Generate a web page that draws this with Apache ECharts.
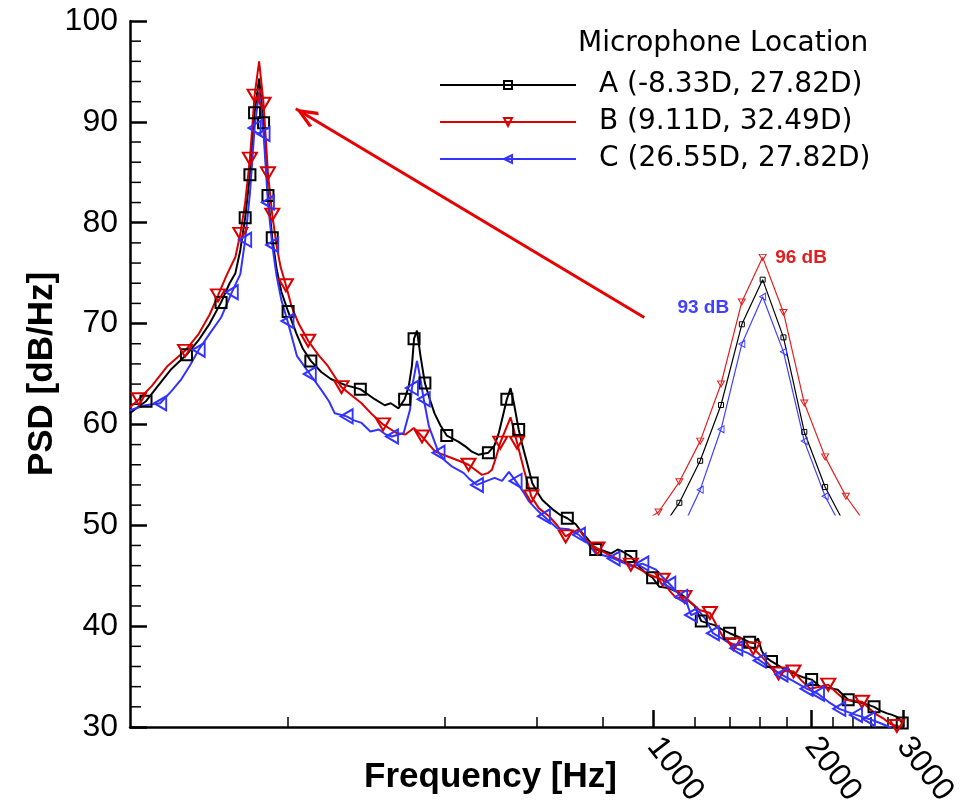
<!DOCTYPE html>
<html>
<head>
<meta charset="UTF-8">
<script src="https://cdn.jsdelivr.net/npm/echarts@6/dist/echarts.min.js"></script>
<style>
  html, body { margin: 0; padding: 0; background: #fff; }
  #main { width: 971px; height: 807px; }
</style>
</head>
<body>
<div id="main"></div>
<script>
// points: [frequency Hz, PSD dB/Hz, marker shown (1) or not (0)]
var micA = [
  [100, 61.1, 0], [104, 61.8, 0], [107.3, 62.3, 1], [113, 63.8, 0], [120, 65.5, 0],
  [128.2, 66.9, 1], [135, 68.3, 0], [142, 70.0, 0], [149.3, 72.1, 1], [155, 74.0, 0],
  [159, 75.0, 0], [162.5, 77.3, 0], [166, 80.5, 1], [169.5, 84.75, 1], [173, 90.9, 1],
  [176.5, 94.3, 0], [180, 89.9, 1], [183.5, 82.7, 1], [187, 78.5, 1], [190.5, 75.5, 0],
  [194.5, 73.2, 0], [200.5, 71.2, 1], [208, 69.0, 0], [214, 67.5, 0], [221.6, 66.3, 1],
  [232, 65.2, 0], [242, 64.5, 0], [258, 63.9, 0], [275.5, 63.5, 1], [293.5, 62.5, 0],
  [306.7, 61.9, 0], [315, 62.1, 0], [325.9, 61.6, 0], [334.8, 62.5, 1], [341, 63.8, 0],
  [345.7, 65.8, 0], [349, 68.5, 1], [353.5, 69.3, 0], [359, 66.8, 0], [366, 64.1, 1],
  [374, 62.5, 0], [381.9, 61.1, 0], [392, 59.9, 0], [403, 58.9, 1], [424, 58.3, 0],
  [438, 57.8, 0], [450, 57.3, 0], [463, 57.0, 0], [484, 57.2, 1], [497, 57.9, 0],
  [507, 59.2, 0], [525, 62.5, 1], [533.6, 63.6, 0], [542, 62.0, 0], [553, 59.5, 1],
  [563, 57.8, 0], [573.8, 56.2, 0], [587, 54.2, 1], [600, 53.3, 0], [613.8, 52.5, 0],
  [622.6, 52.2, 0], [645, 51.5, 0], [665, 51.0, 0], [685, 50.7, 1], [711, 50.1, 0],
  [730, 49.3, 0], [748, 48.7, 0], [776, 47.6, 1], [800, 47.5, 0], [830, 47.2, 0],
  [855, 47.6, 0], [873, 47.4, 0], [906, 46.9, 1], [940, 45.9, 0], [970, 45.2, 0],
  [997, 44.8, 1], [1027, 43.9, 0], [1060, 43.8, 0], [1089, 43.6, 0], [1120, 43.3, 0],
  [1147, 42.9, 0], [1199, 42.0, 0], [1235, 40.5, 1], [1270, 40.3, 0], [1309, 40.1, 0],
  [1350, 39.7, 0], [1399, 39.3, 1], [1460, 38.9, 0], [1528, 38.4, 1], [1560, 38.3, 0],
  [1585, 38.8, 0], [1610, 37.6, 0], [1633, 37.0, 0], [1682, 36.5, 1], [1720, 36.2, 0],
  [1771, 35.8, 0], [1820, 35.5, 0], [1878, 35.2, 0], [1940, 34.9, 0], [2007, 34.7, 1],
  [2085, 34.0, 0], [2160, 33.9, 0], [2251, 33.7, 0], [2357, 32.7, 1], [2430, 32.5, 0],
  [2505, 32.35, 0], [2570, 32.2, 0], [2641, 32.0, 1], [2720, 31.6, 0], [2797, 31.35, 0],
  [2860, 31.2, 0], [2923, 31.0, 0], [2990, 30.4, 1]
];
var micB = [
  [100, 61.7, 0], [104, 62.5, 1], [110, 63.8, 0], [118, 65.8, 0], [127.4, 67.3, 1],
  [135, 68.9, 0], [142, 70.9, 0], [147.3, 72.8, 1], [153, 74.8, 0], [159, 76.6, 0],
  [162.5, 78.9, 1], [166, 82.0, 0], [169.5, 86.35, 1], [173, 92.6, 1], [176.5, 96.0, 0],
  [180, 91.8, 1], [183.5, 84.9, 1], [187, 80.8, 1], [190.5, 77.8, 0], [194, 75.6, 0],
  [198.6, 73.8, 1], [203.6, 71.7, 0], [210, 70.0, 0], [219, 68.3, 1], [229, 66.9, 0],
  [238.8, 65.8, 0], [253.6, 63.7, 1], [265, 62.9, 0], [277, 62.1, 0], [290, 61.0, 0],
  [304.5, 60.0, 1], [323, 59.15, 0], [336, 59.0, 0], [348.5, 59.65, 0], [361.4, 58.8, 1],
  [383, 57.3, 0], [406, 56.8, 0], [425, 56.4, 0], [443.5, 56.0, 1], [470.5, 55.0, 0],
  [484, 55.2, 0], [491.6, 55.5, 0], [501, 56.8, 0], [510, 58.2, 1], [533.6, 60.7, 0],
  [549, 58.2, 1], [566, 55.5, 0], [584.6, 52.85, 1], [604, 51.7, 0], [632, 50.9, 0],
  [655, 50.0, 0], [680, 48.9, 1], [700, 49.3, 0], [721, 49.6, 0], [750, 48.3, 0],
  [782, 47.7, 1], [820, 47.1, 0], [861, 46.6, 0], [906, 46.1, 1], [945, 45.6, 0],
  [982, 45.1, 0], [1042, 44.6, 1], [1075, 43.5, 0], [1105, 42.8, 0], [1147, 42.9, 1],
  [1190, 42.2, 0], [1225, 41.6, 0], [1283, 41.3, 1], [1330, 39.8, 0], [1370, 38.6, 0],
  [1423, 38.2, 1], [1480, 38.1, 0], [1552, 37.8, 1], [1609, 37.0, 0], [1670, 36.1, 0],
  [1735, 35.3, 1], [1800, 35.6, 0], [1853, 35.5, 1], [1920, 34.6, 0], [1994, 33.8, 0],
  [2080, 34.0, 0], [2159, 34.2, 1], [2240, 33.4, 0], [2322, 32.7, 0], [2410, 32.6, 0],
  [2505, 32.5, 1], [2590, 31.8, 0], [2677, 31.2, 0], [2760, 30.8, 0], [2838, 30.3, 0],
  [2920, 30.1, 1], [3000, 29.9, 0]
];
var micC = [
  [100, 61.4, 0], [107, 61.9, 0], [114.2, 62.1, 1], [120, 63.3, 0], [125.4, 64.5, 0],
  [130, 65.8, 0], [135.3, 67.4, 1], [142, 69.0, 0], [149.3, 70.6, 0], [156.5, 73.1, 1],
  [162.5, 74.9, 0], [166, 78.3, 1], [169.5, 82.9, 0], [173, 89.4, 1], [176.5, 93.0, 0],
  [180, 88.8, 1], [183.5, 82.0, 1], [187, 77.8, 1], [190.5, 74.8, 0], [194.5, 72.4, 0],
  [200, 70.25, 1], [208.4, 66.8, 0], [220.6, 65.0, 1], [232.9, 63.3, 0], [240, 62.3, 0],
  [246.2, 61.1, 0], [259.4, 60.8, 1], [268, 60.4, 0], [277, 60.15, 0], [288, 59.3, 0],
  [299, 59.5, 0], [308, 59.0, 0], [316.7, 58.8, 1], [333.4, 59.15, 0], [343, 61.5, 0],
  [345.7, 63.6, 1], [353.5, 66.3, 0], [358, 64.8, 0], [364.2, 62.5, 1], [372.6, 59.8, 0],
  [388.7, 57.2, 1], [400, 56.4, 0], [411.8, 55.85, 0], [433.8, 55.2, 0], [445, 54.6, 0],
  [460.3, 54.0, 1], [480.6, 54.4, 0], [497.6, 54.7, 0], [514, 54.4, 0], [529.7, 55.3, 0],
  [545.6, 54.4, 1], [566, 53.2, 0], [578, 52.4, 0], [600, 51.5, 0], [618, 50.9, 1],
  [655, 49.7, 0], [690, 49.6, 0], [721, 49.05, 1], [750, 48.2, 0], [776, 47.2, 0],
  [805, 47.0, 0], [840, 46.7, 1], [875, 46.3, 0], [913, 45.9, 0], [953, 46.2, 1],
  [1012, 45.6, 0], [1040, 44.9, 0], [1073, 44.2, 1], [1100, 43.6, 0], [1131, 42.9, 1],
  [1160, 42.2, 0], [1181, 41.1, 1], [1225, 41.45, 0], [1262, 40.6, 0], [1300, 39.3, 1],
  [1370, 38.6, 0], [1441, 37.8, 1], [1520, 37.3, 0], [1597, 36.6, 1], [1680, 35.8, 0],
  [1758, 35.2, 1], [1860, 34.5, 0], [1963, 33.8, 1], [2064, 33.3, 1], [2160, 32.5, 0],
  [2267, 31.8, 1], [2350, 31.5, 0], [2440, 31.2, 1], [2582, 30.8, 1], [2680, 30.5, 0],
  [2770, 30.2, 0], [2850, 29.9, 0]
];

var seriesNames = ['A (-8.33D, 27.82D)', 'B (9.11D, 32.49D)', 'C (26.55D, 27.82D)'];
var majorTicks = [1000, 2000, 3000];
var minorTicks = [200, 400, 600, 800, 1200, 1400, 1600, 1800, 2200, 2400, 2600, 2800];
var yMinorTicks = [32, 34, 36, 38, 42, 44, 46, 48, 52, 54, 56, 58, 62, 64, 66, 68,
                   72, 74, 76, 78, 82, 84, 86, 88, 92, 94, 96, 98];
// annotation arrow, in data units (Hz, dB)
var arrowFrom = [961, 70.6];
var arrowTo = [207.4, 91.3];
// zoomed window shown in the inset
var insetX = [157.9, 193.2];
var insetY = [76.37, 96.56];

var BLACK = '#000000', RED = '#d90000', BLUE = '#3333ff';
var SQUARE = 'rect';
var TRI_DOWN = 'path://M0,0 L12,0 L6,10 Z';
var TRI_LEFT = 'path://M10,0 L10,12 L0,6 Z';
var CHEVRON = 'path://M10,-20 L10.01,-20 Z M10,0 L20,18 L17,20 L10,7 L3,20 L0,18 Z';
var FONT = 'Liberation Sans, Arial, sans-serif';

function mainSeries(name, pts, color, symbol, size) {
  return {
    name: name,
    type: 'line',
    xAxisIndex: 0,
    yAxisIndex: 0,
    data: pts.map(function (p) {
      return p[2] ? [p[0], p[1]] : { value: [p[0], p[1]], symbol: 'none' };
    }),
    symbol: symbol,
    symbolSize: size,
    showAllSymbol: true,
    clip: true,
    lineStyle: { color: color, width: 2 },
    itemStyle: { color: 'rgba(255,255,255,0)', borderColor: color, borderWidth: 2 },
    emphasis: { disabled: true }
  };
}

function insetSeries(name, pts, color, symbol, size, peakLabel) {
  var s = {
    name: name,
    type: 'line',
    xAxisIndex: 2,
    yAxisIndex: 1,
    data: pts.map(function (p) { return [p[0], p[1]]; }),
    symbol: symbol,
    symbolSize: size,
    showAllSymbol: true,
    clip: true,
    lineStyle: { color: color, width: 1.2 },
    itemStyle: { color: 'rgba(255,255,255,0)', borderColor: color, borderWidth: 1 },
    emphasis: { disabled: true }
  };
  if (peakLabel) {
    s.markPoint = {
      silent: true,
      symbol: 'circle',
      symbolSize: 1,
      itemStyle: { color: 'rgba(0,0,0,0)' },
      label: Object.assign({
        show: true,
        color: color,
        fontFamily: FONT,
        fontWeight: 'bold',
        fontSize: 19,
        formatter: function (p) { return Math.round(p.value) + ' dB'; }
      }, peakLabel),
      data: [{ type: 'max', valueDim: 'y' }]
    };
  }
  return s;
}

var chart = echarts.init(document.getElementById('main'));

var sA = mainSeries(seriesNames[0], micA, BLACK, SQUARE, [11, 11]);
var sB = mainSeries(seriesNames[1], micB, RED, TRI_DOWN, [14, 12]);
var sC = mainSeries(seriesNames[2], micC, BLUE, TRI_LEFT, [12, 14]);

sB.markLine = {
  silent: true,
  symbol: ['none', CHEVRON],
  symbolSize: [18, 46],
  label: { show: false },
  lineStyle: { color: '#e80000', width: 3, type: 'solid' },
  data: [[{ coord: arrowFrom }, { coord: arrowTo }]]
};

// short inward ticks every 2 dB on the y axis, placed through the axis scales
var yMinorSeries = {
  name: 'y minor ticks',
  type: 'custom',
  xAxisIndex: 0,
  yAxisIndex: 0,
  silent: true,
  clip: false,
  z: 3,
  encode: { x: 0, y: 1 },
  data: yMinorTicks.map(function (v) { return [100, v]; }),
  renderItem: function (params, api) {
    var p = api.coord([api.value(0), api.value(1)]);
    return {
      type: 'line',
      shape: { x1: p[0], y1: p[1], x2: p[0] + 11, y2: p[1] },
      style: { stroke: '#000', lineWidth: 1.5 }
    };
  }
};

var option = {
  animation: false,
  backgroundColor: '#ffffff',
  title: {
    text: 'Microphone Location',
    left: 573,
    top: 25,
    textStyle: { fontFamily: 'DejaVu Sans', fontSize: 28, fontWeight: 'normal', color: '#000' }
  },
  legend: {
    data: seriesNames,
    orient: 'vertical',
    left: 434,
    top: 65,
    itemWidth: 136,
    itemHeight: 10,
    itemGap: 7,
    selectedMode: false,
    textStyle: {
      fontFamily: 'DejaVu Sans', fontSize: 28, color: '#000',
      lineHeight: 30, padding: [0, 0, 0, 18]
    }
  },
  grid: [
    { left: 130, right: 68, top: 21, bottom: 80, containLabel: false, outerBoundsMode: 'none' },
    { left: 652, top: 250, width: 210, height: 265, show: false, containLabel: false, outerBoundsMode: 'none' }
  ],
  xAxis: [
    {
      type: 'log', gridIndex: 0, min: 100, max: 3000,
      name: 'Frequency [Hz]', nameLocation: 'middle', nameGap: 33, nameMoveOverlap: false,
      nameTextStyle: {
        fontFamily: FONT, fontSize: 35, fontWeight: 'bold', color: '#000',
        padding: [0, 52, 0, 0]
      },
      axisLine: { show: true, lineStyle: { color: '#000', width: 2.5 } },
      axisTick: { show: true, inside: true, length: 17, customValues: majorTicks,
                  lineStyle: { color: '#000', width: 2.5 } },
      axisLabel: { show: true, customValues: majorTicks, rotate: -52, margin: 14,
                   fontFamily: FONT, fontSize: 32, color: '#000',
                   formatter: function (v) { return String(Math.round(v)); } },
      minorTick: { show: false },
      splitLine: { show: false }
    },
    {
      type: 'log', gridIndex: 0, min: 100, max: 3000, position: 'bottom',
      axisLine: { show: false },
      axisTick: { show: true, inside: true, length: 10, customValues: minorTicks,
                  lineStyle: { color: '#000', width: 1.5 } },
      axisLabel: { show: false },
      minorTick: { show: false },
      splitLine: { show: false }
    },
    { type: 'value', gridIndex: 1, min: insetX[0], max: insetX[1], show: false, splitLine: { show: false } }
  ],
  yAxis: [
    {
      type: 'value', gridIndex: 0, min: 30, max: 100, interval: 10, position: 'left',
      name: 'PSD [dB/Hz]', nameLocation: 'middle', nameGap: 70, nameRotate: 90, nameMoveOverlap: false,
      nameTextStyle: { fontFamily: FONT, fontSize: 35, fontWeight: 'bold', color: '#000' },
      axisLine: { show: true, lineStyle: { color: '#000', width: 2.5 } },
      axisTick: { show: true, inside: true, length: 17, lineStyle: { color: '#000', width: 2.5 } },
      axisLabel: { fontFamily: FONT, fontSize: 32, color: '#000', margin: 12 },
      splitLine: { show: false }
    },
    { type: 'value', gridIndex: 1, min: insetY[0], max: insetY[1], show: false, splitLine: { show: false } }
  ],
  series: [
    sA, sB, sC,
    insetSeries('A zoom', micA, BLACK, SQUARE, [5, 5], null),
    insetSeries('B zoom', micB, '#e02020', TRI_DOWN, [7, 6], { position: 'right', distance: 12 }),
    insetSeries('C zoom', micC, '#4040ff', TRI_LEFT, [6, 7], { position: 'left', distance: 33, offset: [0, 11] }),
    yMinorSeries
  ]
};

chart.setOption(option);
</script>
</body>
</html>
